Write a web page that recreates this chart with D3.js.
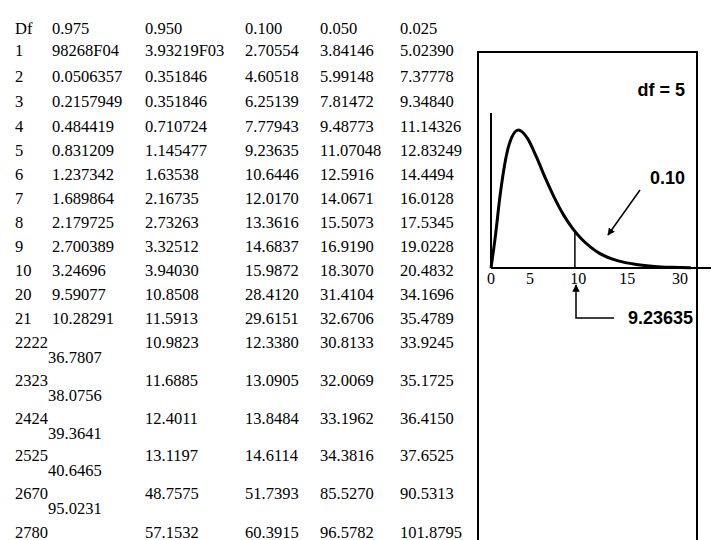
<!DOCTYPE html>
<html><head><meta charset="utf-8">
<script src="https://cdn.jsdelivr.net/npm/d3@7"></script>
<style>body{margin:0;background:#fff}</style>
</head><body>
<svg id="c" width="720" height="540"></svg>
<script>
var headers = ["Df", "0.975", "0.950", "0.100", "0.050", "0.025"];
var dfs = ["1","2","3","4","5","6","7","8","9","10","20","21","2222","2323","2424","2525","2670","2780"];
var col975 = ["98268F04","0.0506357","0.2157949","0.484419","0.831209","1.237342","1.689864","2.179725","2.700389","3.24696","9.59077","10.28291","36.7807","38.0756","39.3641","40.6465","95.0231",""];
var col950 = ["3.93219F03","0.351846","0.351846","0.710724","1.145477","1.63538","2.16735","2.73263","3.32512","3.94030","10.8508","11.5913","10.9823","11.6885","12.4011","13.1197","48.7575","57.1532"];
var col100 = ["2.70554","4.60518","6.25139","7.77943","9.23635","10.6446","12.0170","13.3616","14.6837","15.9872","28.4120","29.6151","12.3380","13.0905","13.8484","14.6114","51.7393","60.3915"];
var col050 = ["3.84146","5.99148","7.81472","9.48773","11.07048","12.5916","14.0671","15.5073","16.9190","18.3070","31.4104","32.6706","30.8133","32.0069","33.1962","34.3816","85.5270","96.5782"];
var col025 = ["5.02390","7.37778","9.34840","11.14326","12.83249","14.4494","16.0128","17.5345","19.0228","20.4832","34.1696","35.4789","33.9245","35.1725","36.4150","37.6525","90.5313","101.8795"];
var rowY = [50,76,101,126,150,174,198,222,246,270,294,318,342,380,418,455,493,532];

// chi-square df=5 curve
var curveX = [0,0.5,1,2,3,4,5,6,7,8,9,10,11,12,14,16,18,20,22];
var curveY = [0,0.037,0.081,0.138,0.154,0.145,0.124,0.1,0.078,0.059,0.044,0.032,0.023,0.016,0.008,0.004,0.0018,0.0008,0.0003];
var tickVals = [0, 4.3, 9.6, 15, 20.8];
var tickLabels = ["0", "5", "10", "15", "30"];
var critical = 9.236;

var svg = d3.select("#c");
var colX = [15, 52, 145, 245, 320, 400];
var tf = "'Liberation Serif','Times New Roman',serif";

function txt(x, y, s) {
  svg.append("text").attr("x", x).attr("y", y + 6).attr("font-family", tf)
    .attr("font-size", 16.5).text(s);
}
headers.forEach(function(h, i) { txt(colX[i], 28, h); });
dfs.forEach(function(d, i) {
  var y = rowY[i];
  txt(colX[0], y, d);
  if (i >= 12 && i <= 16) txt(colX[1] - 4, y + 15, col975[i]);
  else txt(colX[1], y, col975[i]);
  txt(colX[2], y, col950[i]);
  txt(colX[3], y, col100[i]);
  txt(colX[4], y, col050[i]);
  txt(colX[5], y, col025[i]);
});

// right panel box
svg.append("path").attr("d", "M478,540V52H697V540").attr("fill", "none")
  .attr("stroke", "#000").attr("stroke-width", 2);

var x = d3.scaleLinear().domain([0, 24]).range([491, 709]);
var y = d3.scaleLinear().domain([0, 0.154]).range([268, 130]);

svg.append("line").attr("x1", x(0)).attr("x2", 711).attr("y1", y(0)).attr("y2", y(0))
  .attr("stroke", "#000").attr("stroke-width", 2);
svg.append("line").attr("x1", x(0)).attr("x2", x(0)).attr("y1", y(0)).attr("y2", 113)
  .attr("stroke", "#000").attr("stroke-width", 2);

var pts = curveX.map(function(v, i) { return [v, curveY[i]]; });
svg.append("path").datum(pts)
  .attr("d", d3.line().x(function(d) { return x(d[0]); }).y(function(d) { return y(d[1]); }).curve(d3.curveMonotoneX))
  .attr("fill", "none").attr("stroke", "#000").attr("stroke-width", 3);

var critY = d3.scaleLinear().domain(curveX).range(curveY)(critical);
svg.append("line").attr("x1", x(critical)).attr("x2", x(critical)).attr("y1", y(0)).attr("y2", y(critY))
  .attr("stroke", "#000").attr("stroke-width", 1.5);

tickVals.forEach(function(v, i) {
  svg.append("text").attr("x", x(v)).attr("y", 284).attr("text-anchor", "middle")
    .attr("font-family", tf).attr("font-size", 16).text(tickLabels[i]);
});

var af = "'Liberation Sans',Arial,sans-serif";
svg.append("text").attr("x", 685).attr("y", 96).attr("text-anchor", "end")
  .attr("font-family", af).attr("font-weight", "bold").attr("font-size", 18).text("df = 5");
svg.append("text").attr("x", 685).attr("y", 184).attr("text-anchor", "end")
  .attr("font-family", af).attr("font-weight", "bold").attr("font-size", 18).text("0.10");
svg.append("text").attr("x", 693).attr("y", 324).attr("text-anchor", "end")
  .attr("font-family", af).attr("font-weight", "bold").attr("font-size", 18).text("9.23635");

svg.append("defs").append("marker").attr("id", "ah").attr("viewBox", "0 0 10 10")
  .attr("refX", 9).attr("refY", 5).attr("markerWidth", 5).attr("markerHeight", 5)
  .attr("orient", "auto").append("path").attr("d", "M0,0L10,5L0,10z");
svg.append("line").attr("x1", 640).attr("y1", 190).attr("x2", 608).attr("y2", 235)
  .attr("stroke", "#000").attr("stroke-width", 1.5).attr("marker-end", "url(#ah)");
svg.append("path").attr("d", "M614,318H576V285").attr("fill", "none")
  .attr("stroke", "#000").attr("stroke-width", 1.5).attr("marker-end", "url(#ah)");
</script>
</body></html>
